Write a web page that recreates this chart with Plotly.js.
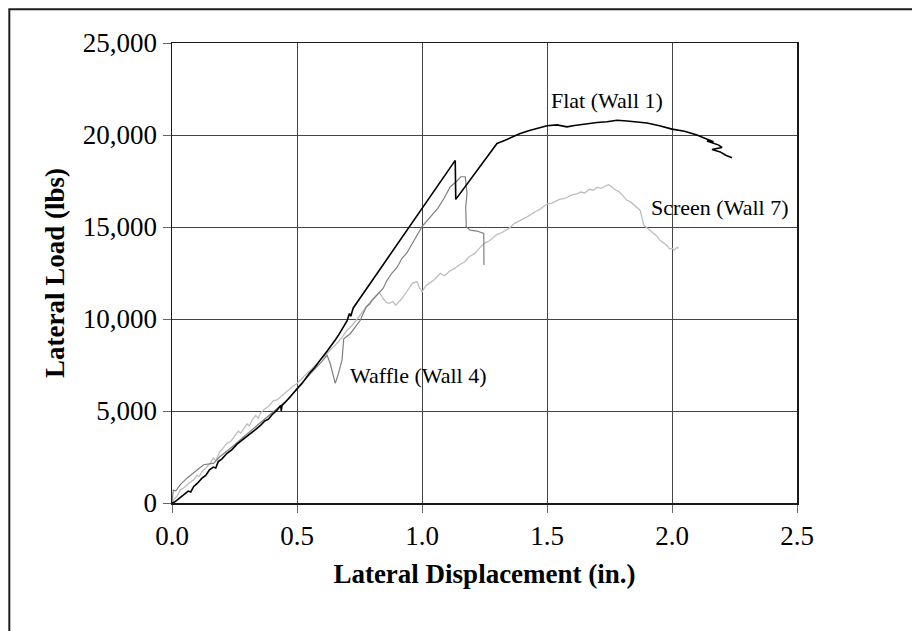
<!DOCTYPE html>
<html>
<head>
<meta charset="utf-8">
<script src="https://cdn.plot.ly/plotly-3.0.1.min.js"></script>
<style>
  html, body { margin: 0; padding: 0; background: #ffffff; overflow: hidden; }
  #chart { width: 912px; height: 631px; }
</style>
</head>
<body>
<div id="chart"></div>
<script>
// Flat (Wall 1)
const flatX = [0, 0.01, 0.02, 0.035, 0.05, 0.065, 0.075, 0.087, 0.1, 0.12, 0.135, 0.15, 0.165, 0.175, 0.185, 0.2, 0.22, 0.24, 0.26, 0.28, 0.30, 0.32, 0.335, 0.353,
  0.37, 0.385, 0.40, 0.42, 0.435, 0.437, 0.44, 0.455, 0.47, 0.485, 0.5, 0.52, 0.535, 0.55, 0.57, 0.585, 0.6, 0.62, 0.635, 0.65, 0.665, 0.68, 0.69, 0.70, 0.71, 0.715, 0.725,
  1.133, 1.135, 1.20, 1.273, 1.30, 1.33, 1.36, 1.393, 1.43, 1.47, 1.5, 1.54, 1.58, 1.61, 1.65, 1.70, 1.74, 1.78, 1.82, 1.86, 1.90, 1.95, 2.0, 2.05, 2.1,
  2.126, 2.166, 2.14, 2.187, 2.2, 2.16, 2.193, 2.215, 2.24];
const flatY = [0, 50, 150, 300, 450, 650, 600, 900, 1050, 1350, 1500, 1800, 1950, 1900, 2250, 2400, 2700, 2900, 3200, 3400, 3650, 3850, 4000, 4200,
  4450, 4550, 4800, 5050, 5300, 5000, 5300, 5500, 5750, 5950, 6200, 6500, 6800, 7050, 7350, 7650, 7900, 8250, 8500, 8800, 9100, 9450, 9650, 9900, 10300, 10150, 10600,
  18620, 16500, 17700, 19085, 19540, 19700, 19880, 20080, 20250, 20400, 20500, 20550, 20440, 20520, 20600, 20680, 20720, 20800, 20760, 20700, 20650, 20500, 20320, 20200, 20000,
  19850, 19630, 19680, 19450, 19320, 19210, 19080, 18900, 18760];

// Waffle (Wall 4)
const waffleX = [0, 0.005, 0.015, 0.033, 0.06, 0.087, 0.11, 0.127, 0.15, 0.167, 0.19, 0.22, 0.25, 0.287, 0.32, 0.353, 0.39, 0.433, 0.47, 0.5, 0.54, 0.567, 0.6, 0.62,
  0.633, 0.645, 0.653, 0.665, 0.68, 0.687, 0.70, 0.713, 0.735, 0.753, 0.777, 0.79, 0.80, 0.82, 0.845, 0.86, 0.88, 0.90, 0.92, 0.94, 0.962, 0.98, 1.0, 1.03, 1.063, 1.09, 1.113, 1.14, 1.155, 1.173,
  1.18, 1.175, 1.177, 1.193, 1.22, 1.247, 1.248];
const waffleY = [0, 700, 650, 1000, 1350, 1620, 1900, 2080, 2150, 2170, 2500, 2800, 3150, 3600, 3980, 4330, 4750, 5240, 5700, 6230, 6850, 7220, 7700, 8030,
  7580, 6900, 6500, 7000, 7760, 8930, 9050, 9200, 9600, 9930, 10670, 10800, 11000, 11300, 11670, 12100, 12500, 12800, 13300, 13600, 14110, 14500, 15020, 15500, 16010, 16600, 17190, 17500, 17730, 17730,
  16830, 16100, 15010, 14830, 14780, 14650, 12930];

// Screen (Wall 7)
const screenX = [0, 0.01, 0.02, 0.033, 0.045, 0.06, 0.075, 0.087, 0.1, 0.11, 0.12, 0.135, 0.153, 0.165, 0.175, 0.19, 0.205, 0.22, 0.235, 0.25, 0.265, 0.275, 0.287,
  0.30, 0.31, 0.32, 0.335, 0.345, 0.353, 0.37, 0.39, 0.405, 0.42, 0.44, 0.46, 0.48, 0.5, 0.52, 0.54, 0.56, 0.58, 0.60, 0.62, 0.647, 0.665, 0.68, 0.70, 0.72, 0.74,
  0.76, 0.78, 0.795, 0.81, 0.83, 0.845, 0.858, 0.87, 0.883, 0.895, 0.91, 0.92, 0.935, 0.945, 0.962, 0.98, 0.99, 1.0, 1.015, 1.03, 1.05, 1.073, 1.09, 1.11, 1.13,
  1.15, 1.17, 1.19, 1.21, 1.23, 1.247, 1.27, 1.3, 1.32, 1.35, 1.37, 1.4, 1.42, 1.45, 1.47, 1.5, 1.52, 1.55, 1.57, 1.6, 1.62, 1.635, 1.65, 1.67, 1.685, 1.7,
  1.715, 1.73, 1.745, 1.753, 1.76, 1.77, 1.79, 1.805, 1.82, 1.835, 1.85, 1.865, 1.873, 1.887, 1.9, 1.91, 1.925, 1.94, 1.95, 1.96, 1.97, 1.98, 1.99, 2.0, 2.01, 2.02, 2.027];
const screenY = [0, 250, 350, 720, 800, 1000, 1150, 1260, 1500, 1450, 1700, 1900, 2170, 2450, 2300, 2750, 3000, 3250, 3350, 3600, 3900, 3800, 4060,
  4300, 4200, 4500, 4750, 4600, 4870, 5100, 5300, 5550, 5600, 5850, 6050, 6300, 6500, 6800, 7050, 7300, 7580, 7850, 8100, 8480, 8750, 9000, 9390, 9650, 10000,
  10400, 10700, 10950, 11200, 11450, 11100, 10900, 10850, 10950, 10750, 10950, 11120, 11400, 11600, 11950, 12030, 11700, 11480, 11800, 11950, 12150, 12480, 12350, 12600, 12750,
  12950, 13100, 13400, 13550, 13850, 14100, 14250, 14600, 14700, 14950, 15200, 15400, 15550, 15800, 15950, 16250, 16300, 16500, 16550, 16750, 16800, 16900, 16850, 17050, 17000, 17150,
  17100, 17200, 17300, 17250, 17150, 17050, 16900, 16650, 16450, 16350, 16150, 15950, 15900, 15100, 14950, 14800, 14650, 14500, 14300, 14200, 14050, 14000, 13800, 13850, 13750, 13900, 13850];

const seriesNames = ['Screen (Wall 7)', 'Waffle (Wall 4)', 'Flat (Wall 1)'];
const xTickVals = [0, 0.5, 1.0, 1.5, 2.0, 2.5];
const yTickVals = [0, 5000, 10000, 15000, 20000, 25000];

const serif = '"Liberation Serif", "Times New Roman", Times, serif';

const traces = [
  { x: screenX, y: screenY, name: seriesNames[0], mode: 'lines', line: { color: '#bdbdbd', width: 1.3 } },
  { x: waffleX, y: waffleY, name: seriesNames[1], mode: 'lines', line: { color: '#7f7f7f', width: 1.2 } },
  { x: flatX, y: flatY, name: seriesNames[2], mode: 'lines', line: { color: '#000000', width: 1.6 } }
];

const axisCommon = {
  showline: true, linecolor: '#1a1a1a', linewidth: 1.5, mirror: true,
  showgrid: true, gridcolor: '#454545', gridwidth: 1,
  zeroline: false, ticks: 'outside', ticklen: 8, tickwidth: 1, tickcolor: '#666666',
  tickfont: { family: serif, size: 27, color: '#000000' }
};

const layout = {
  width: 912, height: 631,
  margin: { l: 172, r: 115, t: 43, b: 128 },
  paper_bgcolor: '#ffffff', plot_bgcolor: '#ffffff',
  showlegend: false, hovermode: false,
  font: { family: serif, color: '#000000' },
  xaxis: Object.assign({}, axisCommon, {
    range: [0, 2.5], tickvals: xTickVals, tickformat: '.1f',
    title: { text: '<b>Lateral Displacement (in.)</b>', font: { family: serif, size: 27, color: '#000000' }, standoff: 14 }
  }),
  yaxis: Object.assign({}, axisCommon, {
    range: [0, 25000], tickvals: yTickVals, tickformat: ',d',
    title: { text: '<b>Lateral Load (lbs)</b>', font: { family: serif, size: 27, color: '#000000' }, standoff: 10 }
  }),
  annotations: [
    { x: 1.509, y: 21863, xref: 'x', yref: 'y', text: 'Flat (Wall 1)', showarrow: false, xanchor: 'left', yanchor: 'middle', font: { family: serif, size: 22, color: '#000000' } },
    { x: 1.909, y: 16055, xref: 'x', yref: 'y', text: 'Screen (Wall 7)', showarrow: false, xanchor: 'left', yanchor: 'middle', font: { family: serif, size: 22, color: '#000000' } },
    { x: 0.703, y: 6936, xref: 'x', yref: 'y', text: 'Waffle (Wall 4)', showarrow: false, xanchor: 'left', yanchor: 'middle', font: { family: serif, size: 22, color: '#000000' } }
  ],
  shapes: [
    { type: 'rect', xref: 'paper', yref: 'paper', x0: -0.2603, x1: 1.2, y0: -0.30, y1: 1.0734,
      line: { color: '#1f1f1f', width: 2 }, fillcolor: 'rgba(0,0,0,0)', layer: 'below' }
  ]
};

Plotly.newPlot('chart', traces, layout, { displayModeBar: false, staticPlot: true });
</script>
</body>
</html>
